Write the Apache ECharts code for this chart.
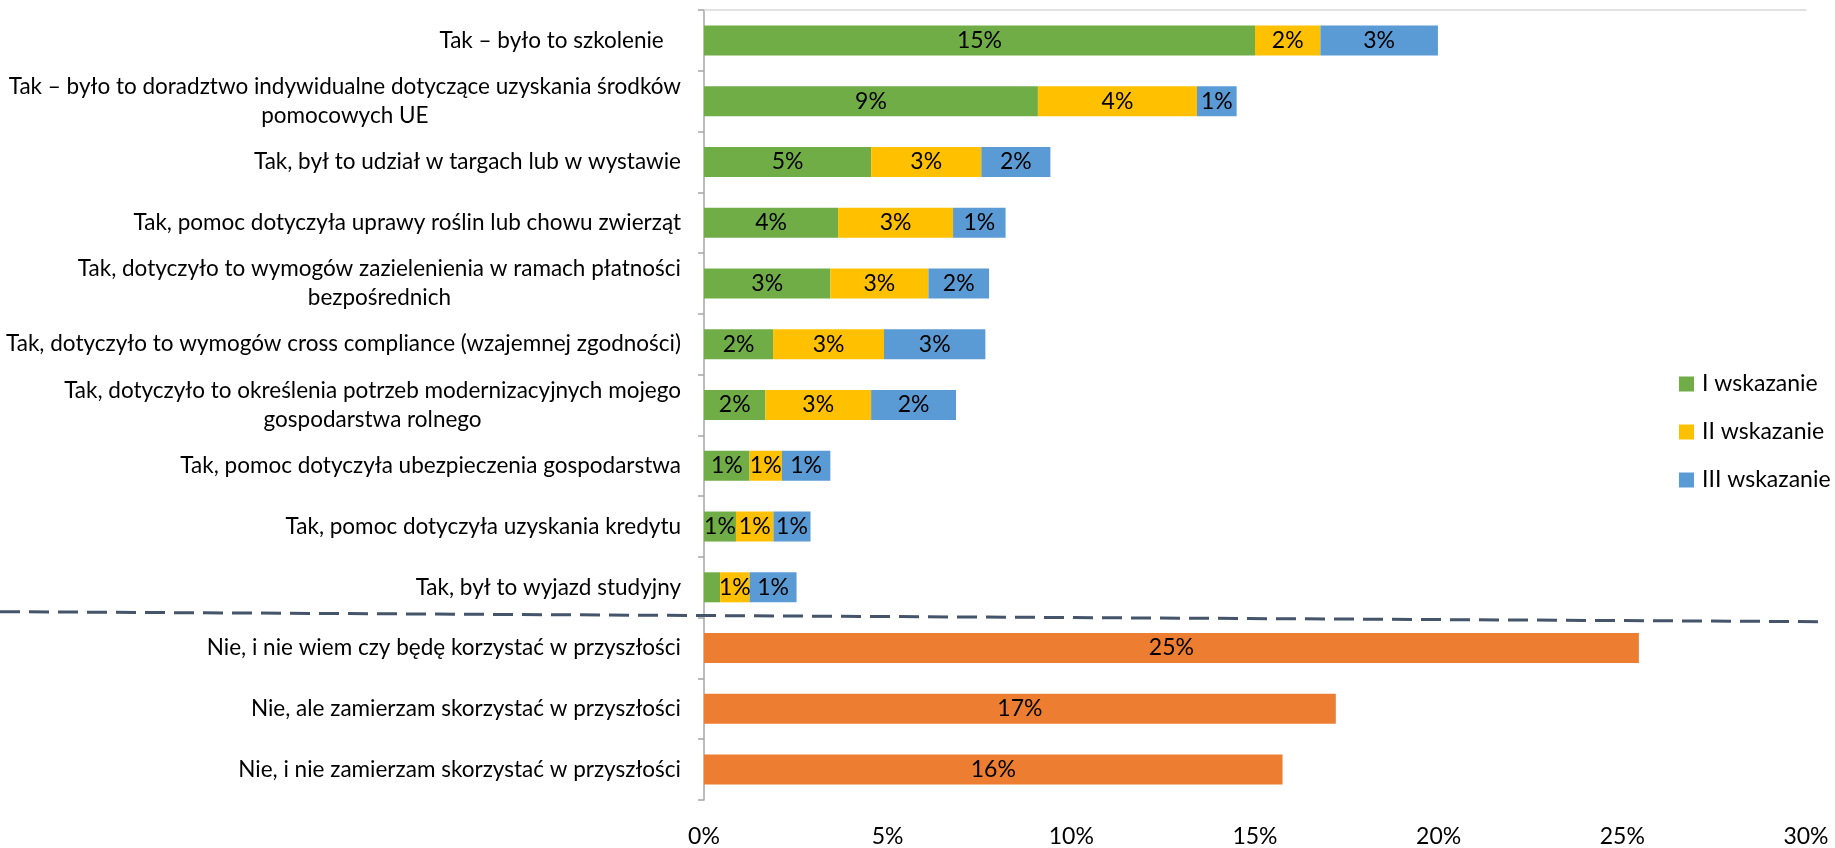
<!DOCTYPE html>
<html>
<head>
<meta charset="utf-8">
<script src="https://cdn.jsdelivr.net/npm/echarts@6/dist/echarts.min.js"></script>
<style>
html,body{margin:0;padding:0;background:#fff;}
#chart{width:1835px;height:848px;}
</style>
</head>
<body>
<div id="chart"></div>
<script>
var categories = [
  "Tak – było to szkolenie   ",
  "Tak – było to doradztwo indywidualne dotyczące uzyskania środków\npomocowych UE",
  "Tak, był to udział w targach lub w wystawie",
  "Tak, pomoc dotyczyła uprawy roślin lub chowu zwierząt",
  "Tak, dotyczyło to wymogów zazielenienia w ramach płatności\nbezpośrednich",
  "Tak, dotyczyło to wymogów cross compliance (wzajemnej zgodności)",
  "Tak, dotyczyło to określenia potrzeb modernizacyjnych mojego\ngospodarstwa rolnego",
  "Tak, pomoc dotyczyła ubezpieczenia gospodarstwa",
  "Tak, pomoc dotyczyła uzyskania kredytu",
  "Tak, był to wyjazd studyjny",
  "Nie, i nie wiem czy będę korzystać w przyszłości",
  "Nie, ale zamierzam skorzystać w przyszłości",
  "Nie, i nie zamierzam skorzystać w przyszłości"
];
var seriesNames = ["I wskazanie", "II wskazanie", "III wskazanie"];
var firstChoice  = [15.0, 9.09, 4.55, 3.65, 3.44, 1.88, 1.67, 1.24, 0.87, 0.44, null, null, null];
var secondChoice = [1.78, 4.33, 3.0, 3.13, 2.67, 3.02, 2.88, 0.88, 1.02, 0.8, null, null, null];
var thirdChoice  = [3.2, 1.08, 1.88, 1.43, 1.65, 2.76, 2.31, 1.32, 1.01, 1.28, null, null, null];
var noHelp       = [null, null, null, null, null, null, null, null, null, null, 25.45, 17.2, 15.75];
var xTicks = [0, 5, 10, 15, 20, 25, 30];

var FONT = 'Lato';
var chart = echarts.init(document.getElementById('chart'));

function labelCfg() {
  return {
    show: true,
    position: 'inside',
    color: '#000',
    fontFamily: FONT,
    fontSize: 23,
    formatter: function (p) {
      var r = Math.round(p.value);
      return (p.value == null || r === 0) ? '' : r + '%';
    }
  };
}

function barSeries(name, data, color) {
  return {
    name: name,
    type: 'bar',
    stack: 'total',
    data: data,
    barWidth: 30,
    itemStyle: { color: color },
    label: labelCfg()
  };
}

var option = {
  animation: false,
  backgroundColor: '#fff',
  textStyle: { fontFamily: FONT },
  grid: { left: 704, right: 29, top: 10, bottom: 46, containLabel: false },
  legend: {
    data: seriesNames,
    orient: 'vertical',
    left: 1674,
    top: 367,
    itemWidth: 15,
    itemHeight: 15,
    itemGap: 24,
    icon: 'rect',
    textStyle: { fontFamily: FONT, fontSize: 23, color: '#000', lineHeight: 24, padding: [0, 0, 0, 3] }
  },
  xAxis: [{
    type: 'value',
    min: xTicks[0],
    max: xTicks[xTicks.length - 1],
    interval: xTicks[1] - xTicks[0],
    position: 'bottom',
    axisLine: { show: false },
    axisTick: { show: false },
    splitLine: { show: false },
    axisLabel: { formatter: '{value}%', color: '#000', fontFamily: FONT, fontSize: 23, margin: 25 }
  }, {
    type: 'value',
    min: xTicks[0],
    max: xTicks[xTicks.length - 1],
    position: 'top',
    axisLine: { show: true, lineStyle: { color: '#D9D9D9', width: 1.5 } },
    axisTick: { show: false },
    splitLine: { show: false },
    axisLabel: { show: false }
  }],
  yAxis: {
    type: 'category',
    data: categories,
    inverse: true,
    axisLine: { show: true, lineStyle: { color: '#A6A6A6', width: 1.5 } },
    axisTick: { show: true, length: 6, lineStyle: { color: '#A6A6A6', width: 1.5 } },
    axisLabel: {
      margin: 23,
      color: '#000',
      fontFamily: FONT,
      fontSize: 22.5,
      formatter: function (v) {
        return v.split('\n').map(function (l) { return '{c|' + l + '}'; }).join('\n');
      },
      rich: { c: { align: 'center', fontFamily: FONT, fontSize: 22.5, color: '#000', lineHeight: 29 } }
    }
  },
  series: [
    barSeries(seriesNames[0], firstChoice, '#70AD47'),
    barSeries(seriesNames[1], secondChoice, '#FFC000'),
    barSeries(seriesNames[2], thirdChoice, '#5B9BD5'),
    barSeries('Nie', noHelp, '#ED7D31')
  ]
};
chart.setOption(option);

// dashed separator between "Tak" and "Nie" groups, positioned via the category axis
var y1 = chart.convertToPixel({ yAxisIndex: 0 }, categories[9]);
var y2 = chart.convertToPixel({ yAxisIndex: 0 }, categories[10]);
var yb = (y1 + y2) / 2;
chart.setOption({
  graphic: [{
    type: 'line',
    shape: { x1: 0, y1: yb - 6, x2: 1824, y2: yb + 4 },
    style: { stroke: '#44546A', lineWidth: 3, lineDash: [20, 9] },
    z: 100
  }]
});
</script>
</body>
</html>
